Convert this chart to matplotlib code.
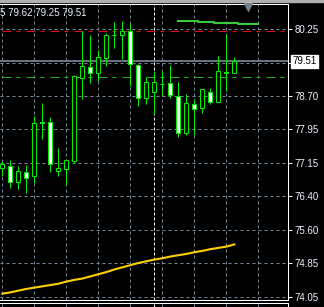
import matplotlib
matplotlib.use("Agg")
import matplotlib.pyplot as plt
from matplotlib.patches import Rectangle
import numpy as np

plt.rcParams['font.family'] = ['Liberation Sans', 'DejaVu Sans']

# candles, oldest first
opens  = [77.05, 77.08, 76.72, 76.94, 76.86, 78.10, 78.10, 76.98, 77.02, 77.21,
          79.13, 79.37, 79.23, 79.59, 80.11, 80.11, 80.20, 79.42, 78.65, 78.81,
          78.99, 79.00, 78.71, 77.84, 78.51, 78.42, 78.81, 78.57, 79.27, 79.25]
highs  = [77.21, 77.22, 77.09, 77.11, 78.24, 78.54, 78.21, 77.50, 77.24, 79.19,
          80.21, 80.12, 79.77, 80.16, 80.41, 80.44, 80.39, 79.45, 79.14, 79.28,
          79.28, 79.42, 79.02, 78.75, 78.63, 78.87, 78.88, 79.63, 80.14, 79.62]
lows   = [76.85, 76.58, 76.55, 76.47, 76.70, 77.71, 76.95, 76.86, 76.65, 77.16,
          78.64, 79.01, 79.06, 79.41, 79.82, 79.56, 78.94, 78.48, 78.52, 78.28,
          78.71, 78.65, 77.76, 77.80, 77.80, 78.32, 78.52, 78.56, 78.82, 79.25]
closes = [77.13, 76.72, 76.97, 76.81, 78.07, 78.09, 77.13, 77.03, 77.22, 79.17,
          79.40, 79.25, 79.60, 80.12, 80.12, 80.20, 79.44, 78.67, 79.02, 79.02,
          78.98, 78.72, 77.84, 78.54, 78.40, 78.86, 78.57, 79.28, 79.25, 79.51]

# slow moving average (yellow)
ma_slow = [74.13, 74.16, 74.20, 74.24, 74.27, 74.30, 74.33, 74.36, 74.41, 74.45,
           74.48, 74.53, 74.58, 74.63, 74.69, 74.74, 74.79, 74.84, 74.88, 74.92,
           74.95, 74.99, 75.02, 75.05, 75.09, 75.12, 75.16, 75.19, 75.22, 75.27]

# shifted green line, starts at bar 22
shift_start = 22
shift_line = [80.45, 80.45, 80.45, 80.43, 80.43, 80.40, 80.40, 80.40, 80.37, 80.37, 80.37]

red_level = 80.21
green_level = 79.14
bid = 79.51
header = "5 79.62 79.25 79.51"

yticks = [74.05, 74.85, 75.60, 76.40, 77.15, 77.95, 78.70, 79.48, 80.25]
ylabels = ['74.05', '74.85', '75.60', '76.40', '77.15', '77.95', '78.70', '', '80.25']
separator_bar = 19

W, H = 324, 307
fig = plt.figure(figsize=(W / 100, H / 100), dpi=100)
fig.patch.set_facecolor('black')
ax = fig.add_axes([0, 7 / H, 288 / W, 296 / H])
ax.set_facecolor('black')

n = len(opens)
x = np.arange(n)
px = 0.72  # one pixel in points

ax.set_xlim(-0.2875, 35.71)
ax.set_ylim(73.984, 80.836)

# grid
ax.set_xticks(np.arange(0, 33, 4))
ax.set_yticks(yticks)
ax.set_yticklabels(ylabels)
ax.grid(True, color='#778899', linestyle=(0, (3, 3)), linewidth=px)
ax.set_axisbelow(True)
ax.tick_params(axis='x', length=0, labelbottom=False)
ax.yaxis.tick_right()
ax.tick_params(axis='y', colors='white', length=3, width=px, pad=2, labelsize=7,
               labelcolor='#eef2ff')

for s in ['left']:
    ax.spines[s].set_visible(False)
for s in ['right', 'top', 'bottom']:
    ax.spines[s].set_color('white')
    ax.spines[s].set_linewidth(px)

ax.axvline(separator_bar, color='white', linestyle=(0, (3, 2)), linewidth=px, zorder=1.5)

# level lines
ax.plot([0, 35.2], [red_level, red_level], color='#e01010', linewidth=px,
        linestyle=(0, (9, 5, 4, 6)), zorder=2)
ax.plot([0, 35.2], [green_level, green_level], color='#1fb81f', linewidth=px,
        linestyle=(0, (9, 5, 4, 6)), zorder=2)
ax.axhline(bid, color='#8a96a8', linewidth=1.1, zorder=2)

# candles
ax.vlines(x, lows, highs, color='#00ee00', linewidth=px, zorder=3)
bottoms = [min(o, c) for o, c in zip(opens, closes)]
heights = [abs(c - o) for o, c in zip(opens, closes)]
fills = ['black' if c > o else 'white' for o, c in zip(opens, closes)]
ax.bar(x, heights, bottom=bottoms, width=0.5, color=fills, edgecolor='#00ee00',
       linewidth=px, zorder=4)

# indicator lines
ax.plot(x, ma_slow, color='#ffd000', linewidth=1.5, zorder=5)
xs = np.arange(shift_start, shift_start + len(shift_line))
ax.plot(xs, shift_line, color='#3cc83c', linewidth=1.5, drawstyle='steps-mid', zorder=5)

# chart-shift marker
ax.scatter([30.7], [0.99], marker='v', s=30, color='#708090',
           transform=ax.get_xaxis_transform(), clip_on=False, zorder=6)

# current price box
ax.annotate('%.2f' % bid, xy=(1, bid), xycoords=ax.get_yaxis_transform(),
            xytext=(3, 0), textcoords='offset points', ha='left', va='center',
            fontsize=7, color='black', annotation_clip=False,
            bbox=dict(boxstyle='square,pad=0.15', fc='white', ec='white'))

# lower panel sliver
ax2 = fig.add_axes([0, 0, 288 / W, 4.3 / H])
ax2.set_facecolor('black')
ax2.set_xlim(ax.get_xlim())
ax2.set_xticks(np.arange(0, 33, 4))
ax2.set_yticks([])
ax2.grid(True, axis='x', color='#778899', linestyle=(0, (3, 3)), linewidth=px)
ax2.tick_params(axis='x', length=0, labelbottom=False)
ax2.axvline(separator_bar, color='white', linestyle=(0, (3, 2)), linewidth=px)
for s in ['left', 'bottom']:
    ax2.spines[s].set_visible(False)
for s in ['right', 'top']:
    ax2.spines[s].set_color('white')
    ax2.spines[s].set_linewidth(px)

# top grey strip and header
fig.patches.append(Rectangle((0, 1 - 2 / H), 1, 2 / H, transform=fig.transFigure,
                             color='#b0b0b0', zorder=10))
fig.text(0, 1 - 12.5 / H, header, color='#eef2ff', fontsize=7, ha='left', va='center')

fig.savefig('out.png', dpi=100, facecolor='black')
